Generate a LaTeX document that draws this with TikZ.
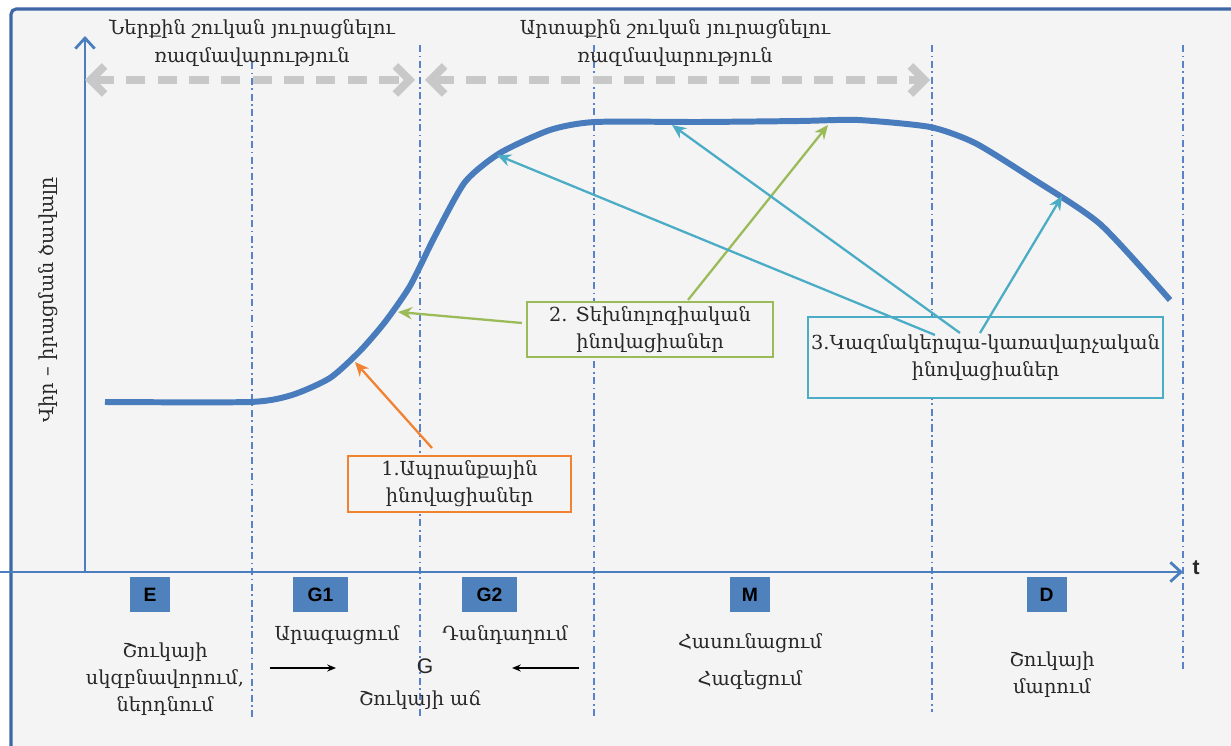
\documentclass[tikz,border=0pt]{standalone}
\usepackage{fontspec}
\setmainfont{DejaVu Serif}
\newfontfamily\lettfont{Liberation Sans}
\usetikzlibrary{arrows.meta}
\definecolor{bg}{RGB}{244,244,244}
\definecolor{frameblue}{RGB}{62,104,165}
\definecolor{curveblue}{RGB}{72,124,188}
\definecolor{axisblue}{RGB}{74,126,190}
\definecolor{sqblue}{RGB}{79,129,189}
\definecolor{dotblue}{RGB}{90,130,200}
\definecolor{dgray}{RGB}{200,200,200}
\definecolor{gbox}{RGB}{155,187,89}
\definecolor{bbox}{RGB}{75,172,198}
\definecolor{obox}{RGB}{240,130,50}
\definecolor{txt}{RGB}{40,40,40}
\def\pu{0.02cm}
\tikzset{
  lbl/.style={font=\fontsize{11}{15.5}\selectfont, text=txt, align=center, inner sep=0pt},
  sq/.style={fill=sqblue, minimum width=40*\pu, minimum height=35*\pu, inner sep=0pt, font=\lettfont\bfseries\fontsize{11}{13}\selectfont},
  vline/.style={dotblue, line width=0.6pt, dash pattern=on 4pt off 2pt on 1pt off 2pt},
  gdash/.style={dgray, line width=4.5pt, dash pattern=on 11pt off 7pt, {Straight Barb[length=8pt,width=16pt]}-{Straight Barb[length=8pt,width=16pt]}},
  inbox/.style={draw=#1, line width=1.4pt, fill=bg, font=\fontsize{11}{15.5}\selectfont, text=txt, align=center, inner sep=0pt},
  conn/.style={draw=#1, line width=1.3pt, -{Stealth[length=8pt,width=7pt]}},
}
\begin{document}
\begin{tikzpicture}[x=0.02cm,y=-0.02cm]
\useasboundingbox (0,0) rectangle (1231,746);
\clip (0,0) rectangle (1231,746);
\fill[white] (0,0) rectangle (1231,746);
\draw[frameblue, line width=1.8pt, fill=bg, rounded corners=3pt] (11,9) rectangle (1260,780);

% vertical dotted lines
\foreach \x/\t/\b in {252/62/718, 420/45/718, 594/45/718, 932/45/712, 1183/45/672}
  \draw[vline] (\x,\t) -- (\x,\b);

% axes
\coordinate (yb) at (85,572);
\coordinate (yt) at (85,36);
\coordinate (xl) at (0,572);
\coordinate (xr) at (1183,572);
\draw[axisblue, line width=1.6pt, -{Straight Barb[length=6pt,width=11pt,line width=1.6pt]}] (yb) -- (yt);
\draw[axisblue, line width=1.6pt, -{Straight Barb[length=6pt,width=11pt,line width=1.6pt]}] (xl) -- (xr);
\node[font=\lettfont\bfseries\fontsize{12}{14}\selectfont, text=txt] (tlab) at (1196,568) {t};

% y label
\node[lbl, rotate=90] (ylab) at (48,300) {Վիր – իրացման ծավալը};

% top labels & gray arrows
\node[lbl] (top1) at (252,43) {Ներքին շուկան յուրացնելու\\ռազմավարություն};
\node[lbl] (top2) at (675,43) {Արտաքին շուկան յուրացնելու\\ռազմավարություն};
\coordinate (g1l) at (85,80); \coordinate (g1r) at (415,80);
\coordinate (g2l) at (425,80); \coordinate (g2r) at (930,80);
\draw[gdash] (g1l) -- (g1r);
\draw[gdash] (g2l) -- (g2r);

% curve
\draw[curveblue, line width=3.4pt, line join=round] plot[smooth, tension=0.4] coordinates {
 (105,402) (250,402) (292,395) (330,378) (360,351) (385,322) (410,286) (435,236) (465,182) (500,153) (550,130) (595,122) (700,122) (800,121) (858,120) (930,127) (975,143) (1030,177) (1100,224) (1170,300)};

% tips on curve
\coordinate (c1) at (355,362);
\coordinate (c2a) at (398,312);
\coordinate (c2b) at (828,125);
\coordinate (c3a) at (497,155);
\coordinate (c3b) at (672,125);
\coordinate (c3c) at (1062,196);

% boxes
\node[inbox=gbox, minimum width=246*\pu, minimum height=55*\pu] (b2) at (650,329.5) {2. Տեխնոլոգիական\\ինովացիաներ};
\node[inbox=bbox, minimum width=355*\pu, minimum height=81*\pu] (b3) at (985.5,357.5) {3.Կազմակերպա-կառավարչական\\ինովացիաներ};
\node[inbox=obox, minimum width=223*\pu, minimum height=56*\pu] (b1) at (459.5,484) {1.Ապրանքային\\ինովացիաներ};

% connectors
\coordinate (s1) at (432,448);
\coordinate (s2a) at (522,323);
\coordinate (s2b) at (688,300);
\coordinate (s3a) at (935,335);
\coordinate (s3b) at (960,333);
\coordinate (s3c) at (980,333);
\draw[conn=obox] (s1) -- (c1);
\draw[conn=gbox] (s2a) -- (c2a);
\draw[conn=gbox] (s2b) -- (c2b);
\draw[conn=bbox] (s3a) -- (c3a);
\draw[conn=bbox] (s3b) -- (c3b);
\draw[conn=bbox] (s3c) -- (c3c);

% stage squares
\node[sq] (E) at (150,594.5) {E};
\node[sq, minimum width=55*\pu] (G1) at (320.5,594.5) {G1};
\node[sq, minimum width=55*\pu] (G2) at (489.5,594.5) {G2};
\node[sq] (M) at (750,594.5) {M};
\node[sq] (D) at (1046.5,594.5) {D};

% bottom texts
\node[lbl] (tE) at (165,679) {Շուկայի\\սկզբնավորում,\\ներդնում};
\node[lbl] (tA) at (337,635) {Արագացում};
\node[lbl] (tDn) at (505,635) {Դանդաղում};
\node[font=\lettfont\fontsize{12}{14}\selectfont, text=txt] (tG) at (425,666) {G};
\node[lbl] (tGr) at (420,700) {Շուկայի աճ};
\coordinate (a1s) at (270,668); \coordinate (a1e) at (336,668);
\coordinate (a2s) at (579,668); \coordinate (a2e) at (512,668);
\draw[black, line width=0.8pt, -{Stealth[length=5pt,width=4pt]}] (a1s) -- (a1e);
\draw[black, line width=0.8pt, -{Stealth[length=5pt,width=4pt]}] (a2s) -- (a2e);
\node[lbl] (tH1) at (750,643) {Հասունացում};
\node[lbl] (tH2) at (750,680) {Հագեցում};
\node[lbl] (tMr) at (1052,675) {Շուկայի\\մարում};
\end{tikzpicture}
\end{document}
